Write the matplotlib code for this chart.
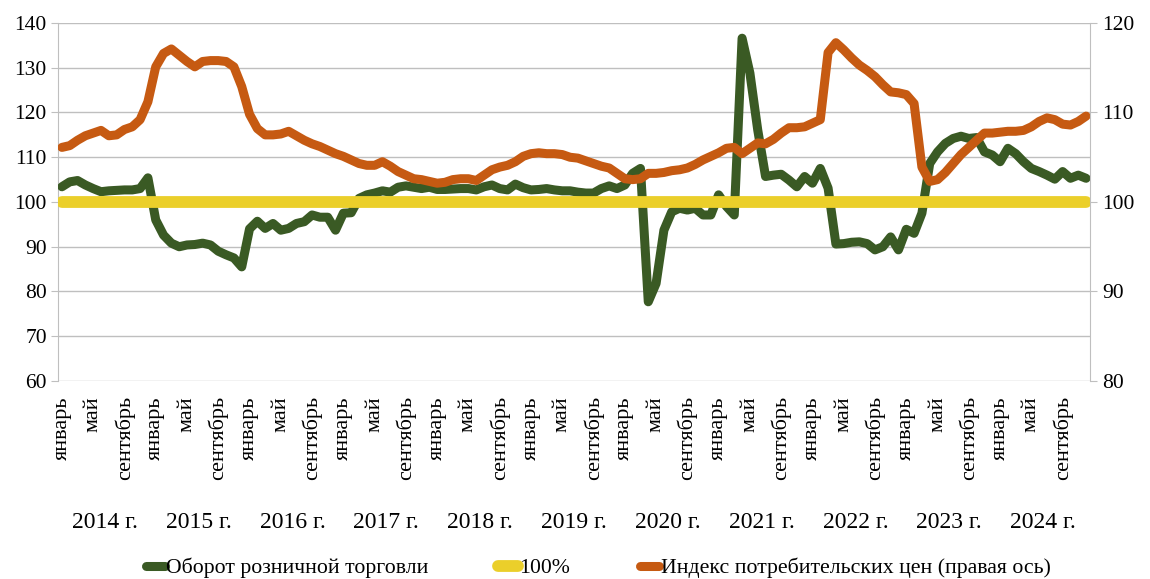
import numpy as np
import matplotlib
matplotlib.use("Agg")
import matplotlib.pyplot as plt
from matplotlib.transforms import blended_transform_factory

plt.rcParams['font.family'] = ['Liberation Serif', 'DejaVu Serif']

years = ['2014 г.', '2015 г.', '2016 г.', '2017 г.', '2018 г.', '2019 г.',
         '2020 г.', '2021 г.', '2022 г.', '2023 г.', '2024 г.']
month_names = ['январь', 'май', 'сентябрь']

# retail turnover, % (left axis), monthly Jan 2014 - Dec 2024
retail = [
    103.4, 104.5, 104.8, 103.8, 103.0, 102.3, 102.5, 102.6, 102.7, 102.7, 103.0, 105.4,
    96.0, 92.6, 90.8, 90.0, 90.4, 90.5, 90.8, 90.4, 89.0, 88.2, 87.5, 85.5,
    94.0, 95.7, 94.1, 95.2, 93.7, 94.1, 95.2, 95.6, 97.1, 96.6, 96.6, 93.7,
    97.5, 97.6, 100.8, 101.6, 102.0, 102.5, 102.2, 103.3, 103.6, 103.3, 103.0, 103.3,
    102.8, 102.8, 102.9, 103.0, 103.0, 102.7, 103.4, 103.8, 103.0, 102.7, 104.0, 103.2,
    102.7, 102.8, 103.0, 102.7, 102.5, 102.5, 102.2, 102.0, 102.0, 103.0, 103.6, 103.0,
    103.8, 106.4, 107.5, 77.7, 81.8, 93.7, 97.8, 98.6, 98.2, 98.6, 97.1, 97.1,
    101.6, 99.0, 97.1, 136.6, 128.8, 116.1, 105.7, 106.0, 106.2, 104.9, 103.4, 105.7,
    104.2, 107.5, 103.1, 90.6, 90.7, 91.0, 91.1, 90.7, 89.3, 90.0, 92.2, 89.3,
    93.9, 93.0, 97.5, 108.6, 111.2, 113.1, 114.2, 114.7, 114.2, 114.4, 111.2, 110.5,
    109.0, 112.0, 110.8, 109.0, 107.5, 106.8, 106.0, 105.1, 106.8, 105.3, 106.0, 105.3,
]

# consumer price index, % (right axis)
cpi = [
    106.1, 106.3, 106.9, 107.4, 107.7, 108.0, 107.4, 107.5, 108.1, 108.4, 109.2, 111.2,
    115.1, 116.6, 117.1, 116.4, 115.7, 115.1, 115.7, 115.8, 115.8, 115.7, 115.1, 112.9,
    109.8, 108.2, 107.5, 107.5, 107.6, 107.9, 107.4, 106.9, 106.5, 106.2, 105.8, 105.4,
    105.1, 104.7, 104.3, 104.1, 104.1, 104.5, 104.0, 103.4, 103.0, 102.6, 102.5, 102.3,
    102.1, 102.2, 102.5, 102.6, 102.6, 102.4, 103.0, 103.6, 103.9, 104.1, 104.5, 105.1,
    105.4, 105.5, 105.4, 105.4, 105.3, 105.0, 104.9, 104.6, 104.3, 104.0, 103.8, 103.2,
    102.6, 102.5, 102.6, 103.2, 103.2, 103.3, 103.5, 103.6, 103.8, 104.2, 104.7, 105.1,
    105.5, 106.0, 106.1, 105.4, 106.0, 106.6, 106.5, 107.0, 107.7, 108.3, 108.3, 108.4,
    108.8, 109.2, 116.7, 117.8, 117.0, 116.1, 115.3, 114.7, 114.0, 113.1, 112.3, 112.2,
    112.0, 111.0, 103.9, 102.3, 102.5, 103.3, 104.3, 105.3, 106.1, 106.9, 107.7, 107.7,
    107.8, 107.9, 107.9, 108.0, 108.4, 109.0, 109.4, 109.2, 108.7, 108.6, 109.0, 109.6,
]

base = [100] * len(retail)

green = '#3A5A24'
yellow = '#EBCF2A'
orange = '#C65A12'
gridc = '#BFBFBF'

x = np.arange(len(retail))

fig = plt.figure(figsize=(11.5, 5.79), dpi=100)
ax = fig.add_axes([58 / 1150, 1 - 381 / 579, 1032 / 1150, 358 / 579])
ax2 = ax.twinx()

l1, = ax.plot(x, retail, color=green, lw=6.5, solid_capstyle='round',
              solid_joinstyle='round', label='Оборот розничной торговли', zorder=3)
l2, = ax.plot(x, base, color=yellow, lw=8.5, solid_capstyle='round',
              label='100%', zorder=4)
l3, = ax2.plot(x, cpi, color=orange, lw=6.5, solid_capstyle='round',
               solid_joinstyle='round', label='Индекс потребительских цен (правая ось)')

ax.set_xlim(-0.5, len(x) - 0.5)
ax.set_ylim(60, 140)
ax.set_yticks(range(60, 141, 10))
ax2.set_ylim(80, 120)
ax2.set_yticks(range(80, 121, 10))

ax.grid(axis='y', color=gridc, lw=1)
ax.set_axisbelow(True)
for a in (ax, ax2):
    for s in a.spines.values():
        s.set_visible(False)
ax.spines['left'].set_visible(True)
ax.spines['left'].set_color(gridc)
ax2.spines['right'].set_visible(True)
ax2.spines['right'].set_color(gridc)

ax.tick_params(axis='y', labelsize=15.5, length=5, color=gridc, pad=3)
ax2.tick_params(axis='y', labelsize=15.5, length=5, color=gridc, pad=4)

# month ticks every 4 months
ticks = []
labels = []
for k in range(len(years)):
    for j, m in enumerate(month_names):
        ticks.append(12 * k + 4 * j)
        labels.append(m)
ax.set_xticks(ticks)
ax.set_xticklabels(labels, rotation=90, fontsize=16, va='top')
ax.tick_params(axis='x', length=0, pad=11)

tr = blended_transform_factory(ax.transData, fig.transFigure)
for k, yr in enumerate(years):
    ax.text(12 * k + 5.5, 1 - 522 / 579, yr, transform=tr, ha='center',
            va='center', fontsize=17)

fig.legend(handles=[l1, l2, l3], loc='center', bbox_to_anchor=(0.52, 1 - 568 / 579),
           ncol=3, frameon=False, fontsize=15.7, handlelength=0.9,
           handletextpad=0.05, columnspacing=3.2)

fig.savefig('out.png', dpi=100)
